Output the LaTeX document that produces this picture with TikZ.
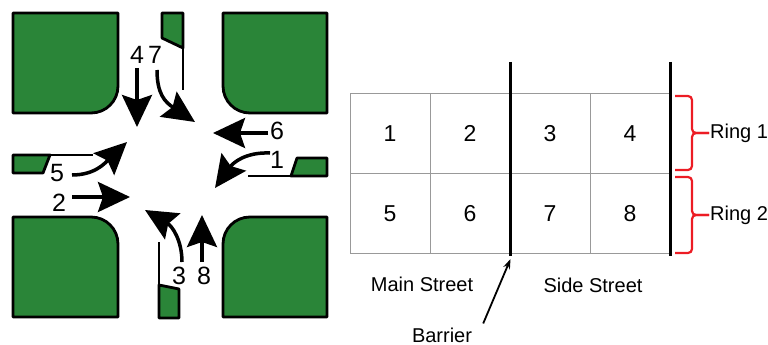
\documentclass[tikz,border=0pt]{standalone}
\usepackage{fontspec}
\setmainfont{Liberation Sans}
\usetikzlibrary{arrows.meta}
\definecolor{lotgreen}{RGB}{42,133,56}
\definecolor{ringred}{RGB}{236,28,36}

\begin{document}
\begin{tikzpicture}[x=1pt, y=-1pt,
    lot/.style={draw, line width=2.8pt, fill=lotgreen, line join=round},
    curb/.style={line width=2.8pt},
    move/.style={line width=3.5pt, -{Stealth[length=32pt, width=30pt, inset=5pt]}},
    movelabel/.style={font=\fontsize{25}{30}\selectfont, inner sep=2pt},
    cell/.style={draw=black!40, line width=1pt, minimum width=80pt, minimum height=80pt, font=\fontsize{23}{28}\selectfont},
    barrier/.style={line width=3pt},
    ring/.style={draw=ringred, line width=2.2pt, rounded corners=4pt},
    caption/.style={font=\fontsize{20}{24}\selectfont, inner sep=1pt}]
    \useasboundingbox (0,0) rectangle (768,345);

    % corner blocks of the intersection
    \draw[lot] (13,13) -- (118,13) -- (118,86) .. controls (118,101) and (106,113) .. (91,113) -- (13,113) -- cycle;
    \draw[lot] (327,13) -- (223,13) -- (223,86) .. controls (223,101) and (235,113) .. (250,113) -- (327,113) -- cycle;
    \draw[lot] (13,317) -- (118,317) -- (118,244) .. controls (118,229) and (106,217) .. (91,217) -- (13,217) -- cycle;
    \draw[lot] (327,317) -- (223,317) -- (223,244) .. controls (223,229) and (235,217) .. (250,217) -- (327,217) -- cycle;

    % medians
    \draw[lot] (162,13) -- (183,13) -- (183,48) -- (162,38) -- cycle;
    \draw[curb] (183,48) -- (183,90);
    \draw[lot] (13,155) -- (50,155) -- (43,173) -- (13,173) -- cycle;
    \draw[curb] (50,155) -- (93,155);
    \draw[lot] (327,158) -- (297,158) -- (291,176) -- (327,176) -- cycle;
    \draw[curb] (291,176) -- (248,176);
    \draw[lot] (159,318) -- (159,285) -- (179,289) -- (179,318) -- cycle;
    \draw[curb] (159,285) -- (159,242);

    % movement labels
    \node[movelabel] (l4) at (137,55) {4};
    \node[movelabel] (l7) at (155,55) {7};
    \node[movelabel] (l6) at (277,131) {6};
    \node[movelabel] (l1) at (277,160) {1};
    \node[movelabel] (l5) at (57,173) {5};
    \node[movelabel] (l2) at (59,203) {2};
    \node[movelabel] (l3) at (179,276) {3};
    \node[movelabel] (l8) at (204,276) {8};

    % movement arrows
    \coordinate (s4) at (137,68);  \coordinate (t4) at (137,127);
    \coordinate (s7) at (157,70);  \coordinate (t7) at (195,122);
    \coordinate (s6) at (268,133); \coordinate (t6) at (213,133);
    \coordinate (s1) at (270,153); \coordinate (t1) at (215,188);
    \coordinate (s5) at (72,175);  \coordinate (t5) at (127,142);
    \coordinate (s2) at (72,197);  \coordinate (t2) at (130,197);
    \coordinate (s3) at (182,262); \coordinate (t3) at (145,210);
    \coordinate (s8) at (202,262); \coordinate (t8) at (202,215);
    \draw[move] (s4) -- (t4);
    \draw[move] (s7) .. controls (157,94) and (165,102) .. (t7);
    \draw[move] (s6) -- (t6);
    \draw[move] (s1) .. controls (245,152) and (233,163) .. (t1);
    \draw[move] (s5) .. controls (95,175) and (105,163) .. (t5);
    \draw[move] (s2) -- (t2);
    \draw[move] (s3) .. controls (182,240) and (172,226) .. (t3);
    \draw[move] (s8) -- (t8);

    % ring and barrier diagram
    \node[cell] (c1) at (390,133.5) {1};
    \node[cell] (c2) at (470,133.5) {2};
    \node[cell] (c3) at (550,133.5) {3};
    \node[cell] (c4) at (630,133.5) {4};
    \node[cell] (c5) at (390,213.5) {5};
    \node[cell] (c6) at (470,213.5) {6};
    \node[cell] (c7) at (550,213.5) {7};
    \node[cell] (c8) at (630,213.5) {8};
    \draw[barrier] ([yshift=31pt]c2.north east) -- ([yshift=-2pt]c6.south east);
    \draw[barrier] ([yshift=31pt]c4.north east) -- ([yshift=-2pt]c8.south east);

    \node[caption, anchor=west] (r1) at (709,133) {Ring 1};
    \node[caption, anchor=west] (r2) at (709,215) {Ring 2};
    \draw[ring] (675,96) -- (692,96) -- (692,133) -- (r1.west);
    \draw[ring] (675,170) -- (692,170) -- (692,133) -- (r1.west);
    \draw[ring] (675,177) -- (692,177) -- (692,215) -- (r2.west);
    \draw[ring] (675,253) -- (692,253) -- (692,215) -- (r2.west);

    \node[caption] (main) at (422,284) {Main Street};
    \node[caption] (side) at (593,285) {Side Street};
    \node[caption] (bar) at (442,335) {Barrier};
    \draw[line width=1.8pt, -{Stealth[length=10pt, width=7pt]}] ([xshift=10pt,yshift=3pt]bar.north east) -- ([yshift=-5pt]c6.south east);
\end{tikzpicture}
\end{document}
